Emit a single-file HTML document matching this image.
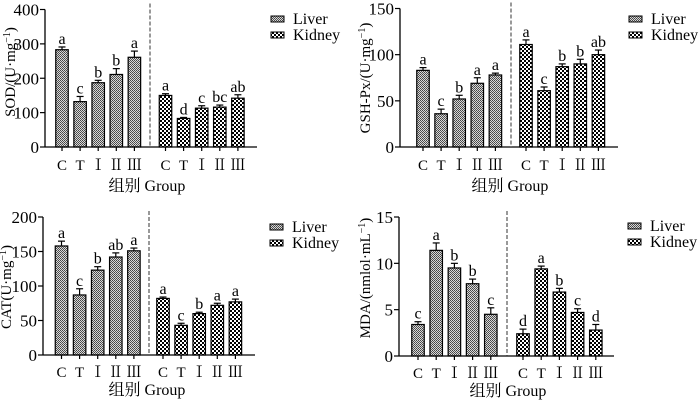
<!DOCTYPE html>
<html><head><meta charset="utf-8"><style>
html,body{margin:0;padding:0;background:#fff;}
svg{display:block;font-family:"Liberation Serif","Noto Serif CJK SC",serif;}
</style></head><body>
<svg id="c" width="700" height="400" viewBox="0 0 700 400" xmlns="http://www.w3.org/2000/svg">
<defs>
<pattern id="pl" width="2" height="2" patternUnits="userSpaceOnUse"><rect width="2" height="2" fill="#d8d8d8"/><rect width="1" height="1" fill="#444"/><rect x="1" y="1" width="1" height="1" fill="#555"/></pattern>
<pattern id="pk" width="4" height="4" patternUnits="userSpaceOnUse"><rect width="4" height="4" fill="#fff"/><rect width="2" height="2" fill="#000"/><rect x="2" y="2" width="2" height="2" fill="#000"/></pattern>
</defs>
</svg>
<script>
const categories = ["C","T","Ⅰ","Ⅱ","Ⅲ"];
const sodLiver = [283,132,187,211,261], sodLiverErr=[8,15,7,17,18];
const sodKidney = [150,83,113,116,142], sodKidneyErr=[5,3,7,6,10];
const sodLiverSig=["a","c","b","b","a"], sodKidneySig=["a","d","c","bc","ab"];
const gshLiver=[83,36,52,69,78], gshLiverErr=[3,5,4,6,2];
const gshKidney=[111,61,87,90,100], gshKidneyErr=[5,4,3,5,5];
const gshLiverSig=["a","c","b","a","a"], gshKidneySig=["a","c","b","b","ab"];
const catLiver=[158,87,123,142,151], catLiverErr=[7,9,5,6,4];
const catKidney=[82,43,60,72,77], catKidneyErr=[2,3,2,3,4];
const catLiverSig=["a","c","b","ab","a"], catKidneySig=["a","c","b","a","a"];
const mdaLiver=[3.4,11.4,9.5,7.8,4.5], mdaLiverErr=[0.3,0.8,0.5,0.5,0.7];
const mdaKidney=[2.4,9.4,6.9,4.7,2.8], mdaKidneyErr=[0.5,0.3,0.4,0.4,0.6];
const mdaLiverSig=["c","a","b","b","c"], mdaKidneySig=["d","a","b","c","d"];
const sodTicks=[0,100,200,300,400], gshTicks=[0,50,100,150], catTicks=[0,50,100,150,200], mdaTicks=[0,5,10,15];

const svg=document.getElementById('c');
const NS="http://www.w3.org/2000/svg";
function mk(tag,attrs,parent,text){const e=document.createElementNS(NS,tag);for(const k in attrs)e.setAttribute(k,attrs[k]);if(text!==undefined)e.textContent=text;(parent||svg).appendChild(e);return e;}

function panel(o){
  const g=mk('g',{});
  
  
  const max=o.ticks[o.ticks.length-1];
  const y=v=>o.y0-(v/max)*(o.y0-o.yTop);
  function series(vals,errs,sigs,start,fill,nm){
    vals.forEach((v,i)=>{
      const cx=start+i*o.step, w=12.5, yt=y(v), ye=y(v+errs[i]);
      const r=mk('rect',{x:cx-w/2,y:yt,width:w,height:o.y0-yt,fill:fill,stroke:'#000','stroke-width':1.2},g);
      
      
      mk('line',{x1:cx,x2:cx,y1:yt,y2:ye,stroke:'#000','stroke-width':1.2},g);
      mk('line',{x1:cx-3.5,x2:cx+3.5,y1:ye,y2:ye,stroke:'#000','stroke-width':1.2},g);
      const t=mk('text',{x:cx,y:ye-3,'text-anchor':'middle','font-size':16},g,sigs[i]);
      
      
      mk('line',{x1:cx,x2:cx,y1:o.y0,y2:o.y0+4,stroke:'#000','stroke-width':1.2},g);
      const c=mk('text',{x:cx,y:o.y0+o.cy,'text-anchor':'middle','font-size':15},g,categories[i]);
      
      
    });
  }
  series(o.lv,o.le,o.ls,o.lStart,'url(#pl)','liver');
  series(o.kv,o.ke,o.ks,o.kStart,'url(#pk)','kidney');
  const ya=mk('line',{x1:o.ax,x2:o.ax,y1:o.yTop,y2:o.y0,stroke:'#000','stroke-width':1.3},g);
  
  const xa=mk('line',{x1:o.ax,x2:o.axEnd,y1:o.y0,y2:o.y0,stroke:'#000','stroke-width':1.3},g);
  
  o.ticks.forEach(t=>{
    mk('line',{x1:o.ax-5,x2:o.ax,y1:y(t),y2:y(t),stroke:'#000','stroke-width':1.2},g);
    const tl=mk('text',{x:o.ax-6,y:y(t)+6,'text-anchor':'end','font-size':17},g,String(t));
    
  });
  const d=mk('line',{x1:o.dash,x2:o.dash,y1:o.yTop-6,y2:o.y0,stroke:'#333','stroke-width':1,'stroke-dasharray':'4,2'},g);
  
  const yl=mk('text',{x:0,y:0,'text-anchor':'middle','font-size':15,transform:`translate(${o.ylx},${o.yly}) rotate(-90)`},g);
  
  yl.innerHTML=o.ylab;
  const xl=mk('text',{x:o.gx,y:o.y0+o.gy,'text-anchor':'middle','font-size':16},g,'组别 Group');
  
  [['url(#pl)','Liver',0],['url(#pk)','Kidney',16]].forEach(([f,t,dy])=>{
    const lb=mk('rect',{x:o.lgx,y:o.lgy+dy,width:13,height:6,fill:f,stroke:'#000','stroke-width':1},g);
    
    const lt=mk('text',{x:o.lgx+22,y:o.lgy+dy+8,'font-size':16},g,t);
    
  });
}
panel({name:'sod-panel',ax:45,axEnd:257,yTop:9.5,y0:147,ticks:sodTicks,lStart:62,kStart:165.5,step:18.1,dash:150,cy:23,gy:44,
  lv:sodLiver,le:sodLiverErr,ls:sodLiverSig,kv:sodKidney,ke:sodKidneyErr,ks:sodKidneySig,
  ylx:15,yly:72,ylab:'SOD/(U·mg<tspan dy="-5" font-size="10">−1</tspan><tspan dy="5">)</tspan>',gx:147,lgx:271,lgy:16});
panel({name:'gsh-panel',ax:400,axEnd:618,yTop:8.5,y0:147,ticks:gshTicks,lStart:423,kStart:526,step:18.1,dash:511,cy:23,gy:44,
  lv:gshLiver,le:gshLiverErr,ls:gshLiverSig,kv:gshKidney,ke:gshKidneyErr,ks:gshKidneySig,
  ylx:370,yly:78,ylab:'GSH-Px/(U·mg<tspan dy="-5" font-size="10">−1</tspan><tspan dy="5">)</tspan>',gx:510,lgx:629,lgy:16});
panel({name:'cat-panel',ax:43,axEnd:255,yTop:217,y0:355,ticks:catTicks,lStart:61.5,kStart:163,step:18.1,dash:149,cy:22,gy:40,
  lv:catLiver,le:catLiverErr,ls:catLiverSig,kv:catKidney,ke:catKidneyErr,ks:catKidneySig,
  ylx:11,yly:287,ylab:'CAT(U·mg<tspan dy="-5" font-size="10">−1</tspan><tspan dy="5">)</tspan>',gx:147,lgx:270,lgy:224});
panel({name:'mda-panel',ax:399,axEnd:614,yTop:217,y0:356,ticks:mdaTicks,lStart:418,kStart:523,step:18.2,dash:507,cy:22,gy:40,
  lv:mdaLiver,le:mdaLiverErr,ls:mdaLiverSig,kv:mdaKidney,ke:mdaKidneyErr,ks:mdaKidneySig,
  ylx:370,yly:278,ylab:'MDA/(nmlol·mL<tspan dy="-5" font-size="10">−1</tspan><tspan dy="5">)</tspan>',gx:508,lgx:628,lgy:223});
</script>
</body></html>
